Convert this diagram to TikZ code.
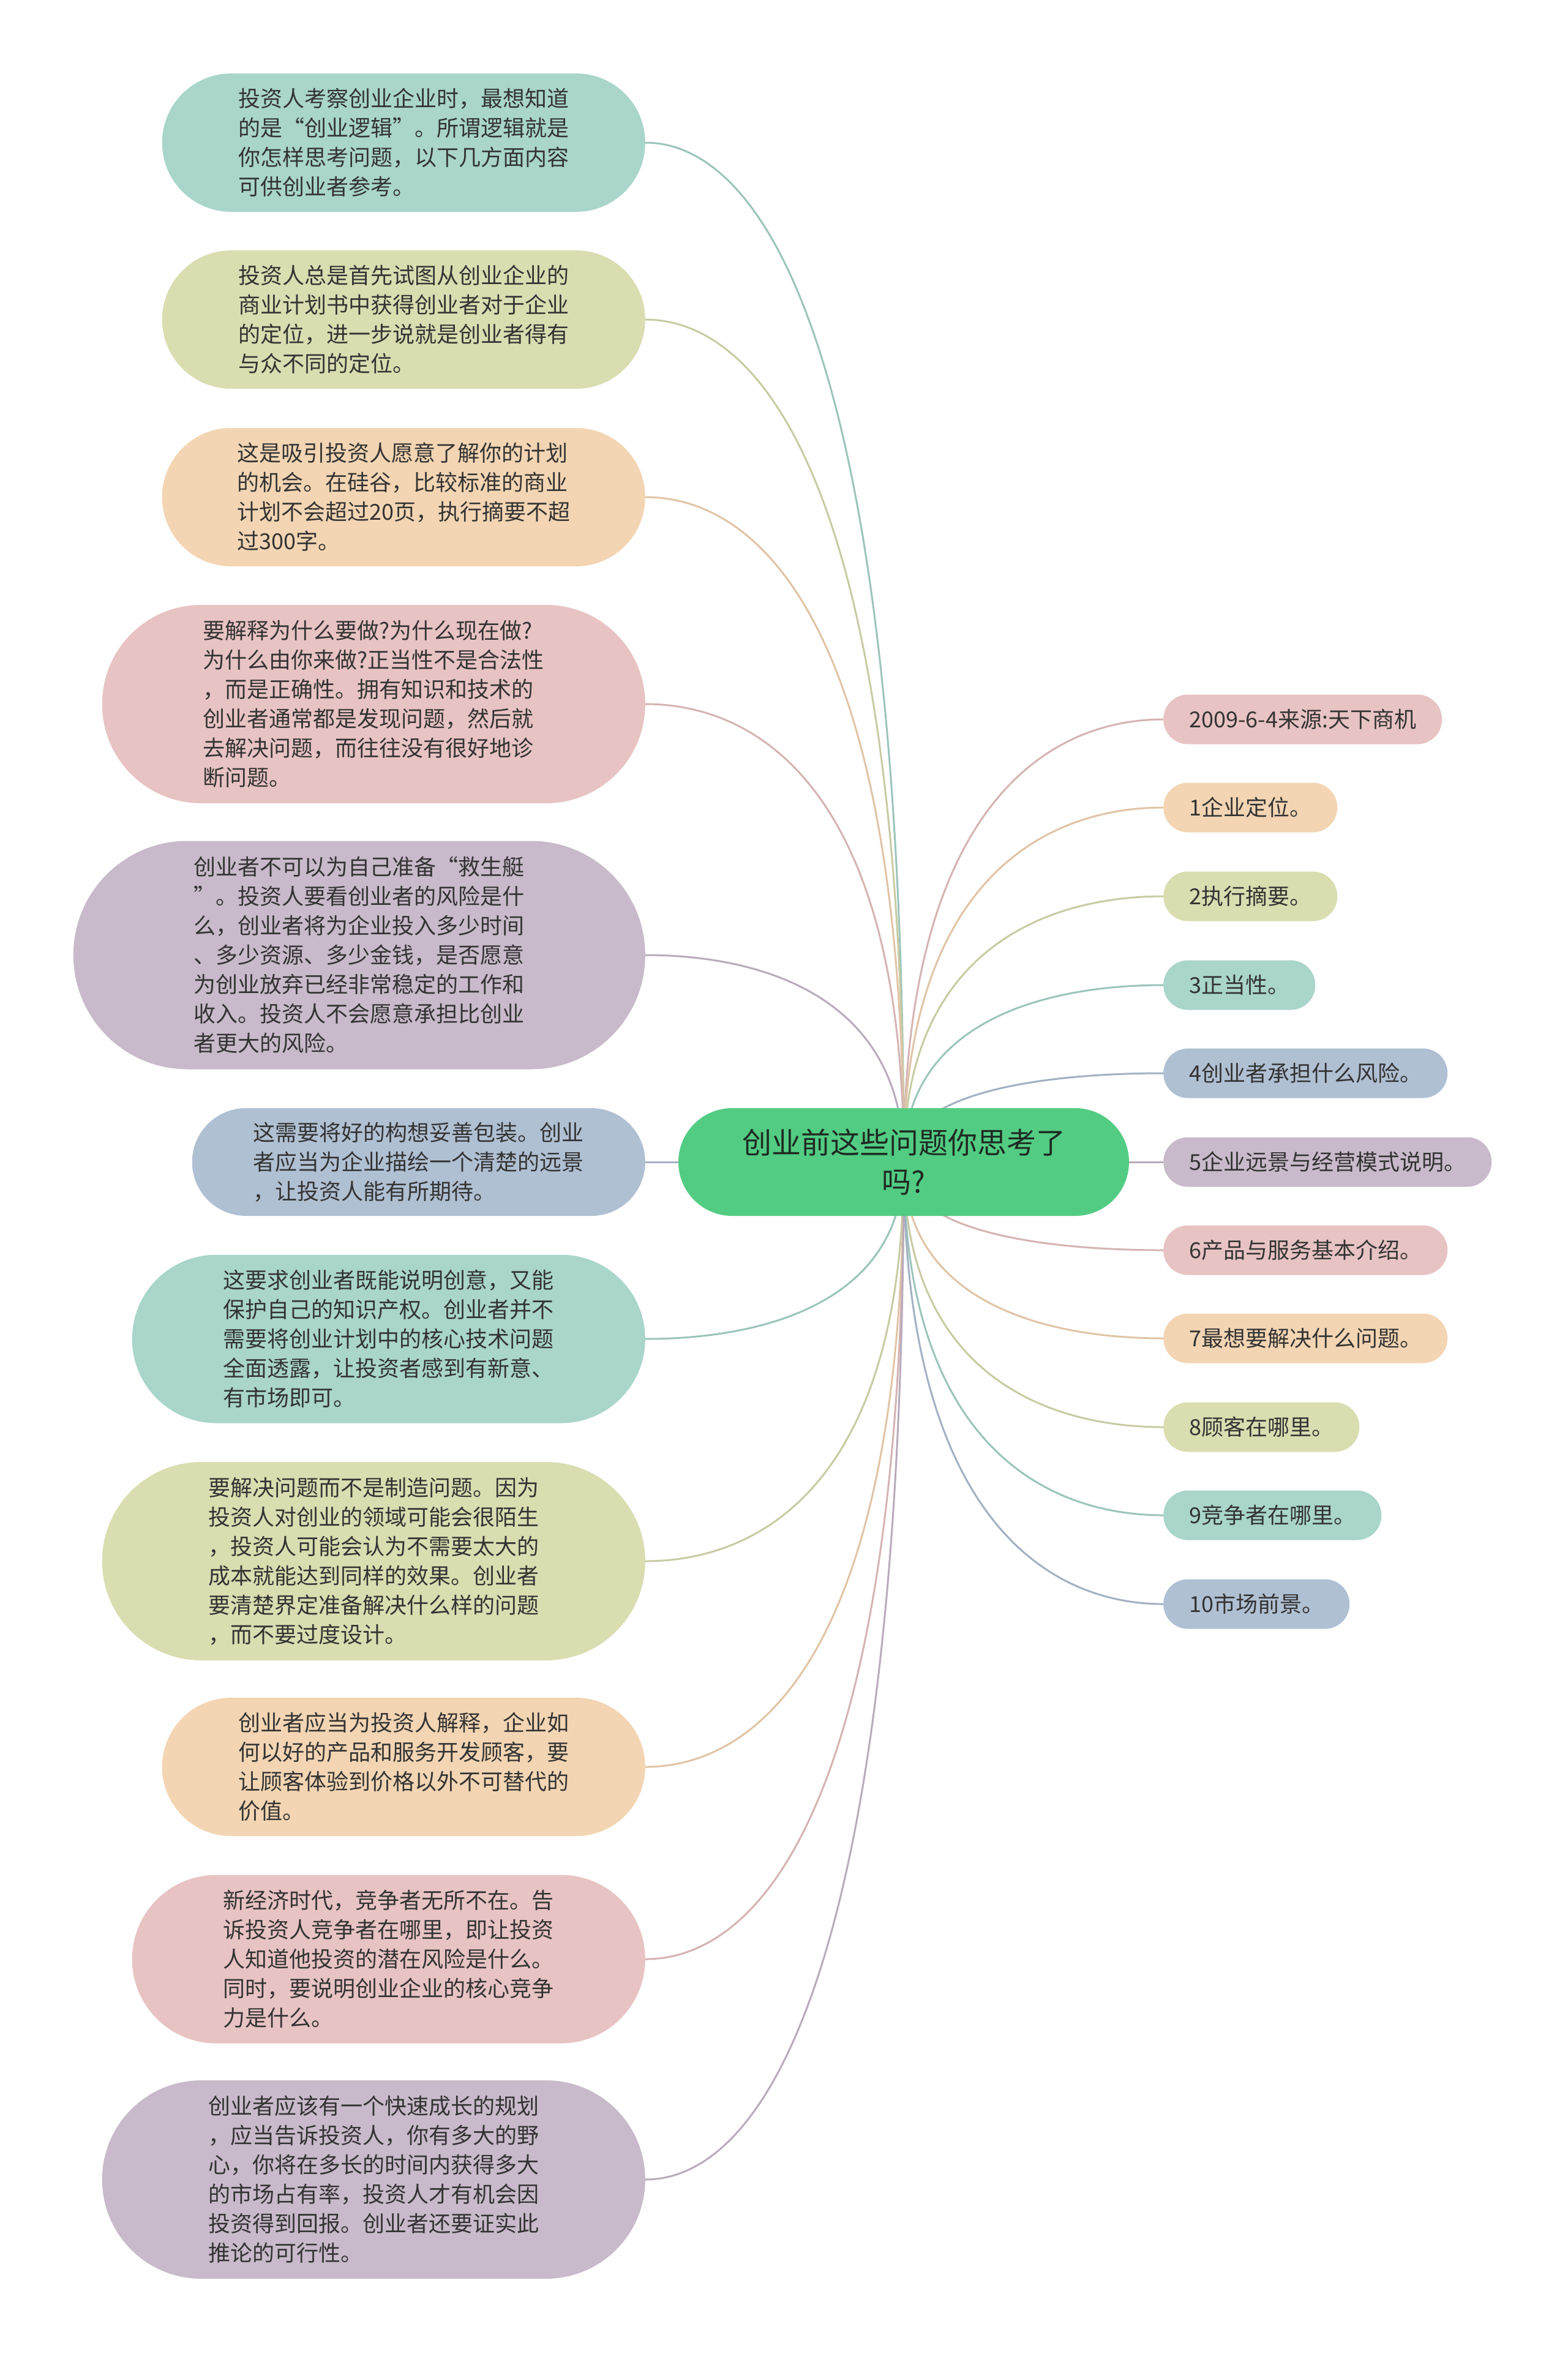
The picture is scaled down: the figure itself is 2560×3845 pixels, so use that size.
\documentclass[tikz,border=0pt]{standalone}
\usepackage{fontspec}
\setmainfont{Noto Sans CJK SC}
\usetikzlibrary{calc}
\pgfdeclarelayer{bg}
\pgfsetlayers{bg,main}
\definecolor{cTeal}{HTML}{A9D5CB}
\definecolor{cOlive}{HTML}{D9DDB0}
\definecolor{cOrange}{HTML}{F3D5B3}
\definecolor{cPink}{HTML}{E8C3C3}
\definecolor{cPurple}{HTML}{C8BACA}
\definecolor{cBlue}{HTML}{B0C0D3}
\definecolor{cGreen}{HTML}{53CC83}
\definecolor{txt}{HTML}{333333}
\definecolor{ctxt}{HTML}{1E2A22}
\tikzset{
  lbox/.style={anchor=east, align=left, text=txt, inner sep=0pt,
    font=\fontsize{36}{48}\selectfont},
  rbox/.style={anchor=west, text=txt, inner xsep=42pt, inner ysep=0pt,
    minimum height=81pt, rounded corners=40pt,
    font=\fontsize{36}{43}\selectfont},
  cbox/.style={align=center, text=ctxt, fill=cGreen, minimum width=736pt,
    minimum height=176pt, rounded corners=87.9pt, inner sep=0pt,
    font=\fontsize{48}{64}\selectfont},
  mmline/.style={line width=3pt},
}
\newcommand\mmlink[2]{%
  \draw[mmline, draw=#1!92!black] let \p1=(#2), \p2=(c.center) in
    (\p2) .. controls (\x2,{\y1+0.2*(\y2-\y1)}) and ({\x1+0.45*(\x2-\x1)},\y1) .. (\p1);}
\begin{document}
\begin{tikzpicture}[x=1pt,y=-1pt]
\useasboundingbox (0,0) rectangle (2560,3845);

% centre
\node[cbox] (c) at (1476,1898) {创业前这些问题你思考了\\吗?};

% left nodes
\node[lbox, fill=cTeal, minimum width=789pt, minimum height=226pt, rounded corners=112.9pt] (L1) at (1054,233)
 {投资人考察创业企业时，最想知道\\的是“创业逻辑”。所谓逻辑就是\\你怎样思考问题，以下几方面内容\\可供创业者参考。};
\node[lbox, fill=cOlive, minimum width=789pt, minimum height=226pt, rounded corners=112.9pt] (L2) at (1054,522)
 {投资人总是首先试图从创业企业的\\商业计划书中获得创业者对于企业\\的定位，进一步说就是创业者得有\\与众不同的定位。};
\node[lbox, fill=cOrange, minimum width=789pt, minimum height=226pt, rounded corners=112.9pt] (L3) at (1054,812)
 {这是吸引投资人愿意了解你的计划\\的机会。在硅谷，比较标准的商业\\计划不会超过20页，执行摘要不超\\过300字。};
\node[lbox, fill=cPink, minimum width=887pt, minimum height=324pt, rounded corners=161.9pt] (L4) at (1054,1150)
 {要解释为什么要做?为什么现在做?\\为什么由你来做?正当性不是合法性\\，而是正确性。拥有知识和技术的\\创业者通常都是发现问题，然后就\\去解决问题，而往往没有很好地诊\\断问题。};
\node[lbox, fill=cPurple, minimum width=934pt, minimum height=373pt, rounded corners=186.4pt] (L5) at (1054,1560)
 {创业者不可以为自己准备“救生艇\\”。投资人要看创业者的风险是什\\么，创业者将为企业投入多少时间\\、多少资源、多少金钱，是否愿意\\为创业放弃已经非常稳定的工作和\\收入。投资人不会愿意承担比创业\\者更大的风险。};
\node[lbox, fill=cBlue, minimum width=740pt, minimum height=176pt, rounded corners=87.9pt] (L6) at (1054,1898)
 {这需要将好的构想妥善包装。创业\\者应当为企业描绘一个清楚的远景\\，让投资人能有所期待。};
\node[lbox, fill=cTeal, minimum width=838pt, minimum height=275pt, rounded corners=137.4pt] (L7) at (1054,2187)
 {这要求创业者既能说明创意，又能\\保护自己的知识产权。创业者并不\\需要将创业计划中的核心技术问题\\全面透露，让投资者感到有新意、\\有市场即可。};
\node[lbox, fill=cOlive, minimum width=887pt, minimum height=324pt, rounded corners=161.9pt] (L8) at (1054,2550)
 {要解决问题而不是制造问题。因为\\投资人对创业的领域可能会很陌生\\，投资人可能会认为不需要太大的\\成本就能达到同样的效果。创业者\\要清楚界定准备解决什么样的问题\\，而不要过度设计。};
\node[lbox, fill=cOrange, minimum width=789pt, minimum height=226pt, rounded corners=112.9pt] (L9) at (1054,2886)
 {创业者应当为投资人解释，企业如\\何以好的产品和服务开发顾客，要\\让顾客体验到价格以外不可替代的\\价值。};
\node[lbox, fill=cPink, minimum width=838pt, minimum height=275pt, rounded corners=137.4pt] (L10) at (1054,3200)
 {新经济时代，竞争者无所不在。告\\诉投资人竞争者在哪里，即让投资\\人知道他投资的潜在风险是什么。\\同时，要说明创业企业的核心竞争\\力是什么。};
\node[lbox, fill=cPurple, minimum width=887pt, minimum height=324pt, rounded corners=161.9pt] (L11) at (1054,3560)
 {创业者应该有一个快速成长的规划\\，应当告诉投资人，你有多大的野\\心，你将在多长的时间内获得多大\\的市场占有率，投资人才有机会因\\投资得到回报。创业者还要证实此\\推论的可行性。};

% right nodes
\node[rbox, fill=cPink]   (R0)  at (1900,1175) {2009-6-4来源:天下商机};
\node[rbox, fill=cOrange] (R1)  at (1900,1319) {1企业定位。};
\node[rbox, fill=cOlive]  (R2)  at (1900,1464) {2执行摘要。};
\node[rbox, fill=cTeal]   (R3)  at (1900,1609) {3正当性。};
\node[rbox, fill=cBlue]   (R4)  at (1900,1753) {4创业者承担什么风险。};
\node[rbox, fill=cPurple] (R5)  at (1900,1898) {5企业远景与经营模式说明。};
\node[rbox, fill=cPink]   (R6)  at (1900,2042) {6产品与服务基本介绍。};
\node[rbox, fill=cOrange] (R7)  at (1900,2186) {7最想要解决什么问题。};
\node[rbox, fill=cOlive]  (R8)  at (1900,2331) {8顾客在哪里。};
\node[rbox, fill=cTeal]   (R9)  at (1900,2475) {9竞争者在哪里。};
\node[rbox, fill=cBlue]   (R10) at (1900,2620) {10市场前景。};

\begin{pgfonlayer}{bg}
\fill[white] (0,0) rectangle (2560,3845);
\mmlink{cTeal}{L1.east}
\mmlink{cOlive}{L2.east}
\mmlink{cOrange}{L3.east}
\mmlink{cPink}{L4.east}
\mmlink{cPurple}{L5.east}
\mmlink{cBlue}{L6.east}
\mmlink{cTeal}{L7.east}
\mmlink{cOlive}{L8.east}
\mmlink{cOrange}{L9.east}
\mmlink{cPink}{L10.east}
\mmlink{cPurple}{L11.east}
\mmlink{cPink}{R0.west}
\mmlink{cOrange}{R1.west}
\mmlink{cOlive}{R2.west}
\mmlink{cTeal}{R3.west}
\mmlink{cBlue}{R4.west}
\mmlink{cPurple}{R5.west}
\mmlink{cPink}{R6.west}
\mmlink{cOrange}{R7.west}
\mmlink{cOlive}{R8.west}
\mmlink{cTeal}{R9.west}
\mmlink{cBlue}{R10.west}
\end{pgfonlayer}
\end{tikzpicture}
\end{document}
